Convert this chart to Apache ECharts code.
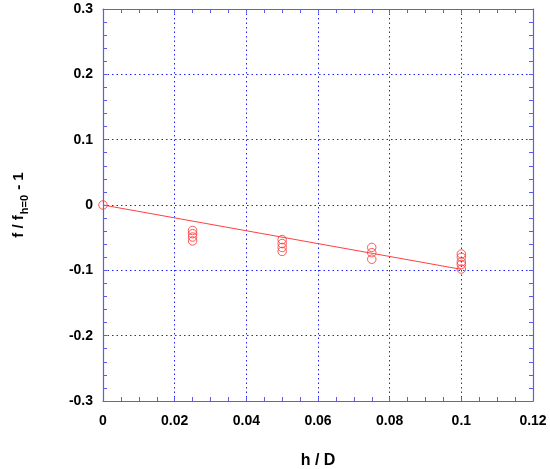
<!DOCTYPE html>
<html>
<head>
<meta charset="utf-8">
<script src="https://cdn.jsdelivr.net/npm/echarts@6/dist/echarts.min.js"></script>
<style>html,body{margin:0;padding:0;background:#fff;}#c{width:550px;height:469px;}</style>
</head>
<body>
<div id="c"></div>
<script>
// h/D positions of the measurement groups
const hD = [0, 0.025, 0.05, 0.075, 0.1];
// measured f/f_{h=0} - 1 values at each h/D
const f_h000 = [0];
const f_h025 = [-0.039, -0.044, -0.049, -0.055];
const f_h050 = [-0.053, -0.059, -0.065, -0.071];
const f_h075 = [-0.065, -0.073, -0.083];
const f_h100 = [-0.075, -0.080, -0.087, -0.091, -0.098];
// fitted line endpoints
const fitX = [0, 0.1];
const fitY = [0, -0.0985];
// axis ranges / ticks
const xTicks = [0, 0.02, 0.04, 0.06, 0.08, 0.1, 0.12];
const yTicks = [-0.3, -0.2, -0.1, 0, 0.1, 0.2, 0.3];

const groups = [f_h000, f_h025, f_h050, f_h075, f_h100];
const pts = [];
groups.forEach((g, i) => g.forEach(v => pts.push([hD[i], v])));
const fitData = fitX.map((x, i) => [x, fitY[i]]);

const axisCol = '#5c5cf0';
const gridCol = '#2020ff';
const font = 'Liberation Sans, Arial, sans-serif';

function xAx(pos, show) {
  return {
    type: 'value', position: pos, min: xTicks[0], max: xTicks[xTicks.length - 1], interval: 0.02,
    axisLine: { show: true, onZero: false, lineStyle: { color: axisCol, width: 1.2 } },
    axisTick: { show: true, inside: true, length: 4, lineStyle: { color: axisCol, width: 1 } },
    minorTick: { show: true, splitNumber: 4, length: 4, lineStyle: { color: axisCol, width: 1 } },
    axisLabel: { show: show, color: '#000', fontWeight: 'bold', fontSize: 14, fontFamily: font, margin: 13 },
    splitLine: { show: show, lineStyle: { color: gridCol, type: [1.5, 3], width: 1 } },
    name: show ? 'h / D' : '', nameLocation: 'middle', nameGap: 52,
    nameTextStyle: { color: '#000', fontWeight: 'bold', fontSize: 16, fontFamily: font }
  };
}
function yAx(pos, show) {
  return {
    type: 'value', position: pos, min: yTicks[0], max: yTicks[yTicks.length - 1], interval: 0.1,
    axisLine: { show: true, onZero: false, lineStyle: { color: axisCol, width: 1.2 } },
    axisTick: { show: true, inside: true, length: 4, lineStyle: { color: axisCol, width: 1 } },
    minorTick: { show: true, splitNumber: 5, length: 4, lineStyle: { color: axisCol, width: 1 } },
    axisLabel: { show: show, color: '#000', fontWeight: 'bold', fontSize: 14, fontFamily: font, margin: 10 },
    splitLine: { show: show, lineStyle: { color: gridCol, type: [1.5, 3], width: 1 } },
    name: show ? '{a|f / f}{s|h=0}{a| - 1}' : '', nameLocation: 'middle', nameRotate: 90, nameGap: 73,
    nameTextStyle: {
      color: '#000', fontWeight: 'bold', fontSize: 15, fontFamily: font,
      rich: {
        a: { color: '#000', fontWeight: 'bold', fontSize: 15, fontFamily: font, lineHeight: 22, verticalAlign: 'middle' },
        s: { color: '#000', fontWeight: 'bold', fontSize: 11, fontFamily: font, lineHeight: 22, verticalAlign: 'bottom', padding: [8, 1, 0, 1] }
      }
    }
  };
}

const chart = echarts.init(document.getElementById('c'), null, { renderer: 'canvas' });
chart.setOption({
  animation: false,
  backgroundColor: '#fff',
  grid: { left: 103, right: 17, top: 9, bottom: 68, containLabel: false, outerBoundsMode: 'none' },
  xAxis: [xAx('bottom', true), xAx('top', false)],
  yAxis: [yAx('left', true), yAx('right', false)],
  series: [
    {
      type: 'line', data: fitData, symbol: 'none', xAxisIndex: 0, yAxisIndex: 0,
      lineStyle: { color: '#ff4040', width: 1 }, z: 2
    },
    {
      type: 'scatter', data: pts, symbol: 'circle', symbolSize: 8.5, xAxisIndex: 0, yAxisIndex: 0,
      itemStyle: { color: 'rgba(0,0,0,0)', borderColor: '#ff3030', borderWidth: 1 }, z: 3
    }
  ]
});
</script>
</body>
</html>
